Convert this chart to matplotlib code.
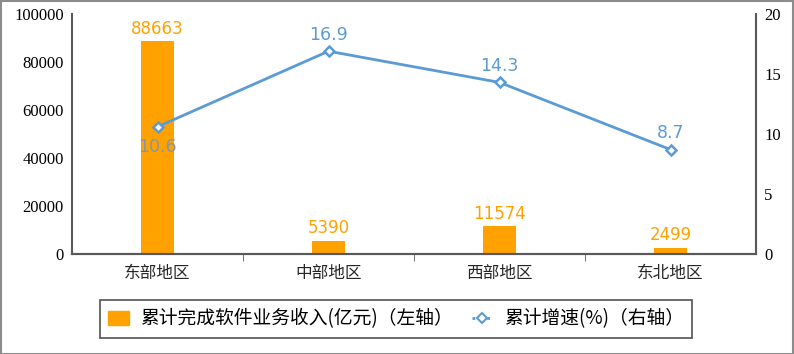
import matplotlib.pyplot as plt
from matplotlib.lines import Line2D
from matplotlib.patches import Patch, Rectangle

plt.rcParams['font.family'] = ['Noto Sans CJK SC', 'DejaVu Sans']

regions = ['东部地区', '中部地区', '西部地区', '东北地区']
revenue = [88663, 5390, 11574, 2499]
growth = [10.6, 16.9, 14.3, 8.7]
left_ticks = [0, 20000, 40000, 60000, 80000, 100000]
right_ticks = [0, 5, 10, 15, 20]

bar_color = '#FFA200'
line_color = '#5B9BD5'
axis_color = '#595959'

fig = plt.figure(figsize=(7.94, 3.54), dpi=100)
ax1 = fig.add_axes([72 / 794, 1 - 254 / 354, (756 - 72) / 794, (254 - 14) / 354])
ax2 = ax1.twinx()

x = list(range(len(regions)))
ax1.bar(x, revenue, width=0.19, color=bar_color, zorder=2)
for xi, v in zip(x, revenue):
    ax1.text(xi, v + 1500, str(v), ha='center', va='bottom', color=bar_color,
             fontsize=12, family=['DejaVu Sans'])

ax2.plot(x, growth, color=line_color, lw=2, marker='D', ms=5.5,
         mfc='white', mec=line_color, mew=1.8, zorder=3)
label_colors = ['#8497A8', line_color, line_color, line_color]
for i, (xi, g) in enumerate(zip(x, growth)):
    if i == 0:
        ax2.text(xi, g - 0.9, f'{g}', ha='center', va='top', color=label_colors[i],
                 fontsize=12.5, family=['DejaVu Sans'])
    else:
        ax2.text(xi, g + 0.6, f'{g}', ha='center', va='bottom', color=label_colors[i],
                 fontsize=12.5, family=['DejaVu Sans'])

ax1.set_xlim(-0.5, 3.5)
ax1.set_ylim(0, 100000)
ax2.set_ylim(0, 20)
ax1.set_yticks(left_ticks)
ax2.set_yticks(right_ticks)
ax1.set_xticks(x)
ax1.set_xticklabels(regions, fontsize=12, color='#262626')
ax1.set_xticks([0.5, 1.5, 2.5], minor=True)
ax1.tick_params(axis='x', which='major', length=0, pad=8)
ax1.tick_params(axis='x', which='minor', length=5, color=axis_color, direction='out')
for ax in (ax1, ax2):
    ax.tick_params(axis='y', length=0, labelsize=12, pad=6)
    for lbl in ax.get_yticklabels():
        lbl.set_family(['Liberation Serif'])
    ax.spines['top'].set_visible(False)
    for s in ('left', 'right', 'bottom'):
        ax.spines[s].set_color(axis_color)
        ax.spines[s].set_linewidth(1.5)
ax2.spines['left'].set_visible(False)
ax1.spines['right'].set_visible(False)

handles = [Patch(color=bar_color),
           Line2D([0], [0], color=line_color, lw=2, ls=':', marker='D', ms=5,
                  mfc='white', mec=line_color, mew=1.5)]
labels = ['累计完成软件业务收入(亿元)（左轴）', '累计增速(%)（右轴）']
leg = fig.legend(handles, labels, loc='center', bbox_to_anchor=(396 / 794, 1 - 319 / 354),
                 ncol=2, fontsize=13.5, frameon=True, fancybox=False, edgecolor='#262626',
                 handlelength=1.1, handletextpad=0.6, columnspacing=1.0, borderpad=0.45)
leg.get_frame().set_linewidth(1.2)

fig.patches.append(Rectangle((0.001, 0.001), 0.998, 0.997, transform=fig.transFigure,
                             fill=False, edgecolor='#8c8c8c', lw=1.5))

fig.savefig('out.png', dpi=100)
